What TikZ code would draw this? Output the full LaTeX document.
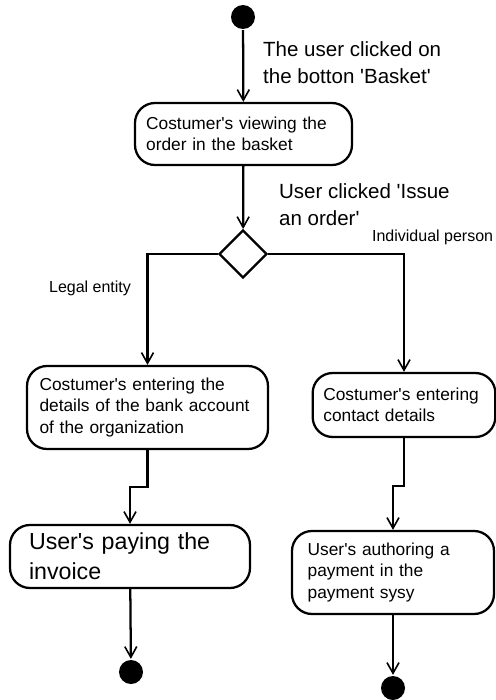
\documentclass[tikz,border=0pt]{standalone}
\usepackage{fontspec}
\setmainfont{Liberation Sans}
\usetikzlibrary{shapes.geometric,arrows.meta}
\newcommand{\sq}{\textquotesingle}
\begin{document}
\begin{tikzpicture}[x=0.75pt,y=-0.75pt,->,>={Straight Barb[length=8pt,width=9pt,line width=1.2pt]},line width=1.7pt,
  act/.style={draw,rounded corners=15pt,align=left,inner xsep=0pt,inner ysep=0pt,font=\fontsize{13}{16}\selectfont},
  dot/.style={circle,fill=black,draw=none,minimum size=18pt,inner sep=0pt},
  label/.style={align=left,anchor=west,inner sep=0pt}]
\useasboundingbox (0,0) rectangle (496,700);
% nodes
\node[dot] (start) at (243,17) {};
\node[act,minimum width=162.75pt,minimum height=46.5pt,text width=146pt] (view) at (243.5,134)
  {Costumer\sq s viewing the\\order in the basket};
\node[draw,diamond,aspect=1,minimum width=36pt,minimum height=36pt,inner sep=0pt] (dec) at (243,254) {};
\node[act,minimum width=180.75pt,minimum height=62.25pt,text width=162pt] (bank) at (147.5,407.5)
  {Costumer\sq s entering the\\details of the bank account\\of the organization};
\node[act,minimum width=137pt,minimum height=48pt,text width=121pt] (contact) at (404,405)
  {Costumer\sq s entering\\contact details};
\node[act,minimum width=180pt,minimum height=47.25pt,text width=151.5pt,font=\fontsize{17.4}{22.5}\selectfont] (invoice) at (130,556.5)
  {User\sq s paying the\\invoice};
\node[act,minimum width=151.5pt,minimum height=62.25pt,text width=128pt] (pay) at (393,572.5)
  {User\sq s authoring a\\payment in the\\payment sysy};
\node[dot] (end1) at (131,672) {};
\node[dot] (end2) at (393,688) {};
% labels
\node[label,font=\fontsize{15.4}{20.25}\selectfont] (l1) at (262,63) {The user clicked on\\the botton \sq Basket\sq};
\node[label,font=\fontsize{15.4}{20.25}\selectfont] (l2) at (278,205) {User clicked \sq Issue\\an order\sq};
\node[label,font=\fontsize{12}{14}\selectfont] (l3) at (371,237) {Individual person};
\node[label,font=\fontsize{12}{14}\selectfont] (l4) at (48,288) {Legal entity};
% flows
\draw (start) -- (view);
\draw (view) -- (dec);
\draw (dec.west) -| (bank.north);
\draw (dec.east) -| (contact.north);
\draw (bank.south) -- ++(0,37) -| (invoice.north);
\draw (contact.south) -- ++(0,48) -| (pay.north);
\draw (invoice) -- (end1);
\draw (pay) -- (end2);
\end{tikzpicture}
\end{document}
